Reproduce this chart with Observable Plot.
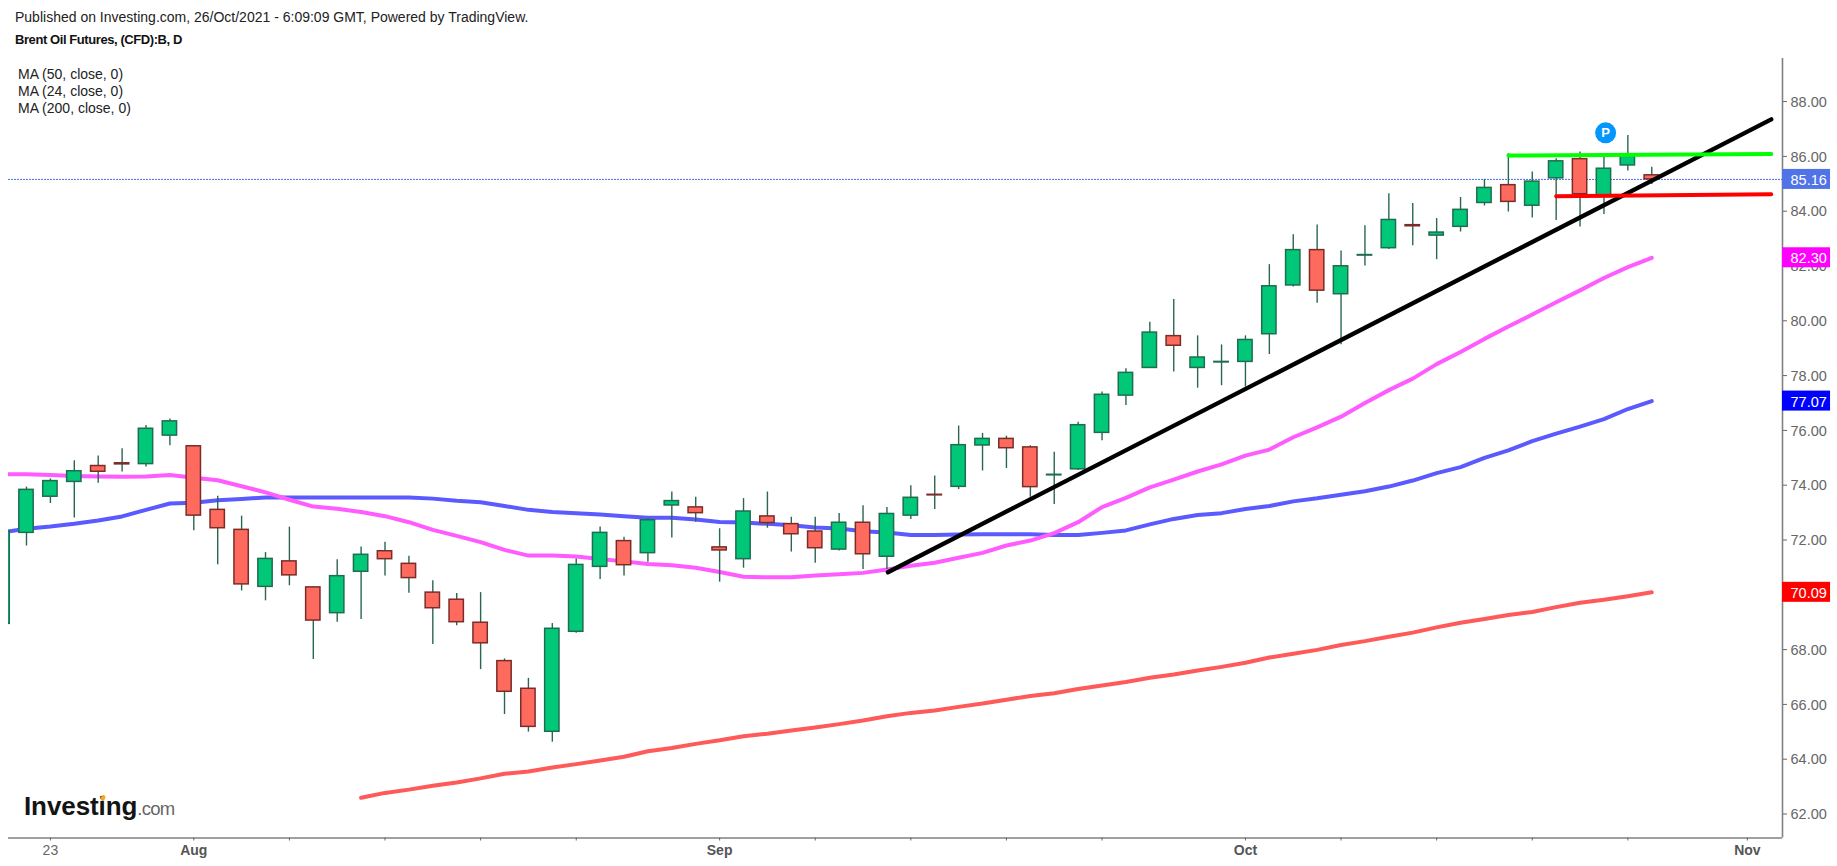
<!DOCTYPE html>
<html>
<head>
<meta charset="utf-8">
<script src="https://cdn.jsdelivr.net/npm/d3@7"></script>
<script src="https://cdn.jsdelivr.net/npm/@observablehq/plot@0.6"></script>
<style>
html,body{margin:0;padding:0;background:#fff;overflow:hidden}
#wrap{position:relative;width:1837px;height:866px;font-family:"Liberation Sans",Arial,sans-serif}
#wrap svg{display:block;position:absolute;left:0;top:0}
.t{position:absolute;white-space:nowrap;color:#222}
#pub{left:15px;top:9px;font-size:14px}
#ttl{left:15px;top:32px;font-size:13px;font-weight:bold;color:#111;letter-spacing:-.42px}
.ma{left:18px;font-size:14px}
#logo{left:24px;top:791px;font-size:26px;font-weight:bold;color:#141414;letter-spacing:-.1px;line-height:30px}
#logo span{font-weight:normal;color:#666;font-size:18.5px;letter-spacing:-.7px}
#spark{position:absolute;left:101px;top:795px;width:4px;height:6px;background:#f5a623;border-radius:2px;transform:rotate(25deg)}
</style>
</head>
<body>
<div id="wrap">
  <div id="chart"></div>
  <div class="t" id="pub">Published on Investing.com, 26/Oct/2021 - 6:09:09 GMT, Powered by TradingView.</div>
  <div class="t" id="ttl">Brent Oil Futures, (CFD):B, D</div>
  <div class="t ma" style="top:65.5px">MA (50, close, 0)</div>
  <div class="t ma" style="top:82.5px">MA (24, close, 0)</div>
  <div class="t ma" style="top:99.5px">MA (200, close, 0)</div>
  <div class="t" id="logo">Investing<span>.com</span></div>
  <div id="spark"></div>
</div>
<script>
// Session index of the first bar (Jul 21, 2021 → -1; Jul 22 → 0, ...)
const firstSession = -1;
const opens = [68.94,72.26,73.58,74.12,74.70,74.80,74.77,75.81,75.42,73.10,72.37,70.29,71.22,70.27,69.33,70.84,71.59,71.13,70.08,69.82,68.98,67.58,66.57,65.00,68.65,71.02,71.96,71.52,73.26,73.19,71.73,71.30,72.86,72.58,72.31,71.65,72.63,71.39,72.89,73.65,73.94,75.45,75.69,75.38,74.36,74.58,75.91,77.27,78.28,79.44,78.28,78.48,78.50,79.51,81.29,82.58,80.97,82.38,82.65,83.49,83.11,83.43,84.30,84.95,84.20,85.20,85.90,84.52,85.67,85.31];
const highs = [72.36,73.93,74.23,74.89,75.07,75.33,76.18,76.42,75.44,73.60,72.87,71.54,72.47,70.29,71.28,71.74,71.92,71.41,70.51,70.05,70.08,67.66,66.95,68.95,71.31,72.47,72.10,72.78,73.75,73.56,72.41,73.51,73.75,72.83,72.83,72.97,73.25,73.19,73.98,74.34,76.16,75.89,75.79,75.44,75.20,76.30,77.40,78.25,79.95,80.78,79.45,79.12,79.45,82.05,83.14,83.50,82.55,83.47,84.64,84.28,83.73,84.50,85.16,86.10,85.43,85.91,86.16,85.96,86.76,85.60];
const lows = [68.90,71.78,73.33,72.80,74.07,74.48,74.66,75.44,72.34,71.10,70.14,69.78,70.33,67.64,69.00,69.10,70.69,70.06,68.19,68.87,67.27,65.63,64.99,64.62,68.60,70.56,70.69,71.19,72.07,72.65,70.46,70.97,72.43,71.56,71.15,71.60,70.92,70.92,72.75,73.11,73.84,74.52,74.61,73.56,73.30,74.54,75.62,76.91,78.28,78.13,77.54,77.63,77.58,78.77,81.23,80.64,79.13,82.00,82.60,82.74,82.23,83.24,84.19,83.97,83.75,83.66,83.42,83.88,85.47,84.97];
const closes = [72.32,73.83,74.15,74.51,74.49,74.76,76.06,76.33,72.89,72.43,70.38,71.31,70.71,69.06,70.68,71.46,71.30,70.61,69.51,69.00,68.23,66.46,65.18,68.76,71.09,72.26,71.08,72.72,73.42,72.98,71.62,73.04,72.62,72.21,71.70,72.63,71.48,72.95,73.54,73.63,75.46,75.69,75.35,73.93,74.38,76.19,77.30,78.10,79.57,79.09,78.66,78.50,79.30,81.26,82.58,81.10,81.99,82.40,83.68,83.45,83.22,84.05,84.85,84.34,85.08,85.82,84.62,85.55,86.00,85.16];

// Moving averages, first value at session -1 (50, 24) and 14 (200)
const ma50 = [72.28,72.41,72.49,72.59,72.71,72.86,73.10,73.33,73.36,73.45,73.50,73.55,73.55,73.55,73.55,73.55,73.55,73.55,73.51,73.43,73.38,73.24,73.10,73.02,72.98,72.93,72.87,72.81,72.81,72.75,72.66,72.64,72.59,72.54,72.46,72.42,72.32,72.27,72.18,72.18,72.20,72.21,72.21,72.21,72.18,72.18,72.26,72.35,72.57,72.77,72.91,72.98,73.13,73.24,73.41,73.52,73.65,73.78,73.95,74.17,74.44,74.66,75.00,75.27,75.61,75.88,76.14,76.41,76.78,77.07];
const ma24 = [74.40,74.40,74.37,74.34,74.32,74.31,74.32,74.37,74.27,74.18,73.96,73.74,73.47,73.22,73.14,73.02,72.87,72.65,72.37,72.15,71.92,71.64,71.43,71.43,71.40,71.31,71.22,71.12,71.08,70.99,70.83,70.66,70.64,70.64,70.70,70.75,70.80,70.92,71.06,71.17,71.35,71.53,71.80,71.98,72.25,72.65,73.20,73.54,73.92,74.20,74.50,74.76,75.08,75.30,75.75,76.11,76.50,77.00,77.47,77.89,78.42,78.86,79.34,79.79,80.23,80.68,81.11,81.56,81.96,82.30];
const ma200 = [62.59,62.77,62.89,63.03,63.15,63.30,63.47,63.55,63.70,63.82,63.95,64.09,64.29,64.41,64.56,64.69,64.84,64.93,65.05,65.16,65.28,65.41,65.57,65.69,65.78,65.91,66.03,66.17,66.31,66.41,66.56,66.69,66.82,66.97,67.09,67.24,67.37,67.52,67.71,67.85,67.99,68.17,68.31,68.47,68.62,68.81,68.98,69.12,69.26,69.37,69.55,69.71,69.82,69.95,70.09];
const ma200Start = 14;

// Drawn trend lines: [session, price]
const trendBlack = [[36.04,70.82],[73.0,87.35]];
const trendGreen = [[62,86.03],[73.0,86.09]];
const trendRed = [[64,84.55],[73.0,84.62]];

const yTicks = [62,64,66,68,70,72,74,76,78,80,82,84,86,88];
const minorSessions = [1,7,11,15,19,23,29,33,37,41,45,51,55,59,63,67,72];
const monthSessions = [7,29,51,72];
const monthNames = ["Aug","Sep","Oct","Nov"];
const daySessions = [1];
const dayNames = ["23"];

const lastPrice = 85.16;
const priceTags = [
  {value:85.16,color:"#5173e8"},
  {value:82.30,color:"#ff00ff"},
  {value:77.07,color:"#0000ff"},
  {value:70.09,color:"#ff0000"}
];
const publishMark = {session:66.07,price:86.86,label:"P"};

const xMin=-0.753, xMax=73.47, xTagEnd=75.48, tagHalf=0.365;
const yMin=61.124, yMax=89.573;

const candles = opens.map((o,k)=>({i:k+firstSession,o,h:highs[k],l:lows[k],c:closes[k]}));
const line = (arr,start)=>arr.map((v,k)=>({i:k+start,v}));
const bodyHalf = 0.3;
const up = d=>d.c>=d.o;
const font = '"Liberation Sans",Arial,sans-serif';

const chart = Plot.plot({
  width:1837,height:866,
  marginLeft:8,marginRight:55,marginTop:58,marginBottom:28.5,
  style:{fontFamily:font,fontSize:"14px",background:"transparent",overflow:"visible"},
  x:{domain:[xMin,xMax],axis:null},
  y:{domain:[yMin,yMax],axis:null},
  marks:[
    Plot.ruleY([lastPrice],{x1:()=>xMin,x2:()=>xMax,stroke:"#4a6fe8",strokeWidth:1,strokeDasharray:"2,1"}),
    Plot.line(line(ma50,firstSession),{x:"i",y:"v",stroke:"#5a5aff",strokeWidth:4,clip:"frame",curve:"linear"}),
    Plot.line(line(ma24,firstSession),{x:"i",y:"v",stroke:"#ff5cff",strokeWidth:4,clip:"frame",curve:"linear"}),
    Plot.line(line(ma200,ma200Start),{x:"i",y:"v",stroke:"#ff5a5a",strokeWidth:4,clip:"frame",curve:"linear"}),
    Plot.ruleX(candles.slice(1),{x:"i",y1:"l",y2:"h",stroke:"#2a6650",strokeWidth:1.4}),
    Plot.rect(candles,{
      x1:d=>d.i-bodyHalf,x2:d=>d.i+bodyHalf,
      y1:d=>Math.min(d.o,d.c),y2:d=>Math.max(d.o,d.c),
      fill:d=>up(d)?"#00c878":"#ff6a5f",
      stroke:d=>up(d)?"#1f6d50":"#7a2c28",
      strokeWidth:1.5,clip:"frame"
    }),
    Plot.line(trendBlack,{x:"0",y:"1",stroke:"#000",strokeWidth:4.4}),
    Plot.line(trendGreen,{x:"0",y:"1",stroke:"#00ff00",strokeWidth:4}),
    Plot.line(trendRed,{x:"0",y:"1",stroke:"#ff0000",strokeWidth:4}),
    Plot.dot([publishMark],{x:"session",y:"price",r:10.5,fill:"#0496ff"}),
    Plot.text([publishMark],{x:"session",y:"price",text:"label",fill:"#fff",fontWeight:"bold",fontSize:13}),
    Plot.ruleX([xMax],{stroke:"#808080",strokeWidth:1.6}),
    Plot.ruleY([yMin],{x1:()=>xMin,x2:()=>xMax,stroke:"#808080",strokeWidth:1.6}),
    Plot.axisY({anchor:"right",ticks:yTicks,tickFormat:()=>"",tickSize:4,label:null,stroke:"#666"}),
    Plot.text(yTicks,{x:()=>xMax,y:d=>d,text:d=>d3.format(".2f")(d),textAnchor:"start",dx:8,dy:0.5,fill:"#666",fontSize:14.5}),
    Plot.axisX({anchor:"bottom",ticks:minorSessions,tickFormat:()=>"",tickSize:3,label:null,stroke:"#666"}),
    Plot.axisX({anchor:"bottom",ticks:monthSessions,tickFormat:d=>monthNames[monthSessions.indexOf(d)],tickSize:0,tickPadding:7,label:null,color:"#555",fontSize:14,fontWeight:"bold"}),
    Plot.axisX({anchor:"bottom",ticks:daySessions,tickFormat:d=>dayNames[daySessions.indexOf(d)],tickSize:0,tickPadding:7,label:null,color:"#666",fontSize:14}),
    Plot.rect(priceTags,{x1:()=>xMax,x2:()=>xTagEnd,y1:d=>d.value-tagHalf,y2:d=>d.value+tagHalf,fill:d=>d.color}),
    Plot.text(priceTags,{x:()=>xMax,y:"value",text:d=>d.value.toFixed(2),textAnchor:"start",dx:8,dy:1,fill:"#fff",fontSize:14.5})
  ]
});
document.getElementById("chart").appendChild(chart);
</script>
</body>
</html>
